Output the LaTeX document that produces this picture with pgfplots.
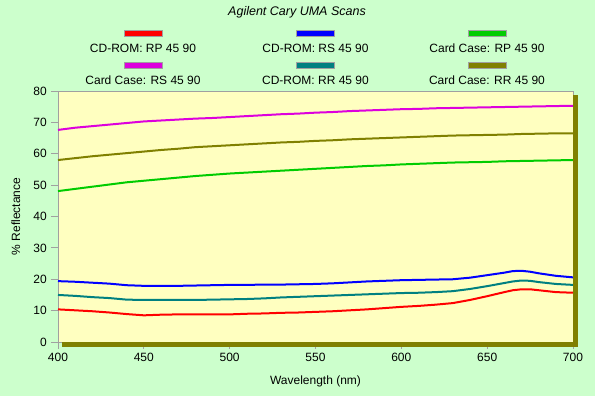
\documentclass[border=0pt]{standalone}
\usepackage{pgfplots}
\pgfplotsset{compat=1.18}
\usepackage{fontspec}
\setmainfont{Liberation Sans}
\definecolor{bgc}{RGB}{204,255,204}
\definecolor{plotbg}{RGB}{255,255,192}
\definecolor{cred}{RGB}{255,0,0}
\definecolor{cblue}{RGB}{0,0,255}
\definecolor{cgreen}{RGB}{0,204,0}
\definecolor{cmag}{RGB}{221,0,221}
\definecolor{cteal}{RGB}{0,128,128}
\definecolor{colive}{RGB}{128,128,0}
\definecolor{axgray}{RGB}{160,160,160}
\begin{document}
\fontsize{12}{14}\selectfont
\begin{tikzpicture}[x=1pt,y=1pt]
\fill[bgc] (-58,-54) rectangle (537,342);
\begin{axis}[
  at={(0,0)}, anchor=south west,
  scale only axis, width=515pt, height=251pt,
  xmin=400, xmax=700, ymin=0, ymax=80,
  xtick={400,450,...,700}, ytick={0,10,...,80},
  axis background/.style={fill=plotbg},
  axis line style={axgray, line width=0.8pt},
  tick style={axgray, line width=0.8pt},
  tick align=outside, major tick length=7pt,
  xtick pos=bottom, ytick pos=left,
  /pgf/number format/assume math mode=true,
  /pgf/number format/set thousands separator={},
  tick label style={font=\fontsize{12}{14}\selectfont, text=black},
  xlabel={Wavelength (nm)}, ylabel={\% Reflectance},
  label style={font=\fontsize{12}{14}\selectfont},
  xlabel style={yshift=-6pt},
  ylabel style={yshift=5pt},
  every axis plot/.append style={line width=2pt, no markers},
]
\addplot[cred] coordinates {(400,10.4)(410,10.1)(420,9.8)(430,9.4)(440,8.9)(450,8.5)(460,8.7)(470,8.8)(480,8.8)(490,8.8)(500,8.8)(510,9.0)(520,9.1)(530,9.3)(540,9.4)(550,9.6)(560,9.8)(570,10.1)(580,10.4)(590,10.8)(600,11.2)(610,11.5)(620,11.9)(630,12.4)(640,13.4)(650,14.6)(660,15.9)(665,16.5)(670,16.8)(675,16.8)(680,16.5)(690,15.9)(700,15.7)};
\addplot[cblue] coordinates {(400,19.4)(410,19.2)(420,18.9)(430,18.6)(440,18.1)(450,17.9)(460,17.9)(470,17.9)(480,18.0)(490,18.1)(500,18.2)(510,18.2)(520,18.3)(530,18.3)(540,18.4)(550,18.5)(560,18.7)(570,19.0)(580,19.3)(590,19.5)(600,19.7)(610,19.8)(620,19.9)(630,20.0)(640,20.5)(650,21.3)(660,22.1)(665,22.6)(670,22.7)(675,22.4)(680,21.9)(690,21.1)(700,20.6)};
\addplot[cgreen] coordinates {(400,48.1)(410,48.8)(420,49.5)(430,50.2)(440,50.9)(450,51.4)(460,51.9)(470,52.4)(480,52.9)(490,53.3)(500,53.7)(510,54.0)(520,54.3)(530,54.6)(540,54.9)(550,55.2)(560,55.5)(570,55.8)(580,56.1)(590,56.3)(600,56.6)(610,56.8)(620,57.0)(630,57.2)(640,57.3)(650,57.4)(660,57.6)(670,57.7)(680,57.8)(690,57.9)(700,58.0)};
\addplot[cmag] coordinates {(400,67.6)(410,68.3)(420,68.8)(430,69.3)(440,69.8)(450,70.3)(460,70.6)(470,70.9)(480,71.2)(490,71.4)(500,71.7)(510,72.0)(520,72.3)(530,72.6)(540,72.8)(550,73.1)(560,73.3)(570,73.6)(580,73.8)(590,74.0)(600,74.2)(610,74.3)(620,74.5)(630,74.6)(640,74.7)(650,74.8)(660,74.9)(670,75.0)(680,75.1)(690,75.2)(700,75.3)};
\addplot[cteal] coordinates {(400,15.0)(410,14.7)(420,14.3)(430,14.0)(440,13.5)(450,13.4)(460,13.4)(470,13.4)(480,13.4)(490,13.5)(500,13.6)(510,13.7)(520,13.9)(530,14.2)(540,14.4)(550,14.6)(560,14.8)(570,15.0)(580,15.2)(590,15.4)(600,15.6)(610,15.7)(620,15.9)(630,16.2)(640,16.9)(650,17.8)(660,18.8)(665,19.3)(670,19.6)(675,19.5)(680,19.1)(690,18.5)(700,18.2)};
\addplot[colive] coordinates {(400,58.0)(410,58.6)(420,59.2)(430,59.7)(440,60.2)(450,60.7)(460,61.2)(470,61.6)(480,62.1)(490,62.4)(500,62.7)(510,63.0)(520,63.3)(530,63.6)(540,63.8)(550,64.1)(560,64.3)(570,64.6)(580,64.8)(590,65.0)(600,65.2)(610,65.4)(620,65.6)(630,65.8)(640,65.9)(650,66.0)(660,66.1)(670,66.3)(680,66.4)(690,66.5)(700,66.5)};
\end{axis}
% 3D shadow border
\fill[colive] (515,-5) rectangle (519.5,247);
\fill[colive] (4,-5) rectangle (519.5,-0.5);
% title
\node[font=\itshape\fontsize{12.5}{14}\selectfont] at (239,330) {Agilent Cary UMA Scans};
% legend
\foreach \cx/\cy/\col/\txt in {
  85/308.7/cred/{CD-ROM: RP 45 90},
  257.5/308.7/cblue/{CD-ROM: RS 45 90},
  429/308.7/cgreen/{Card Case: RP 45 90},
  85/276.8/cmag/{Card Case: RS 45 90},
  257.5/276.8/cteal/{CD-ROM: RR 45 90},
  429/276.8/colive/{Card Case: RR 45 90}}{
  \filldraw[fill=\col, draw=axgray, line width=0.8pt] (\cx-19,\cy-2.8) rectangle (\cx+19,\cy+2.8);
  \node at (\cx,\cy-14.7) {\txt};
}
\end{tikzpicture}
\end{document}
